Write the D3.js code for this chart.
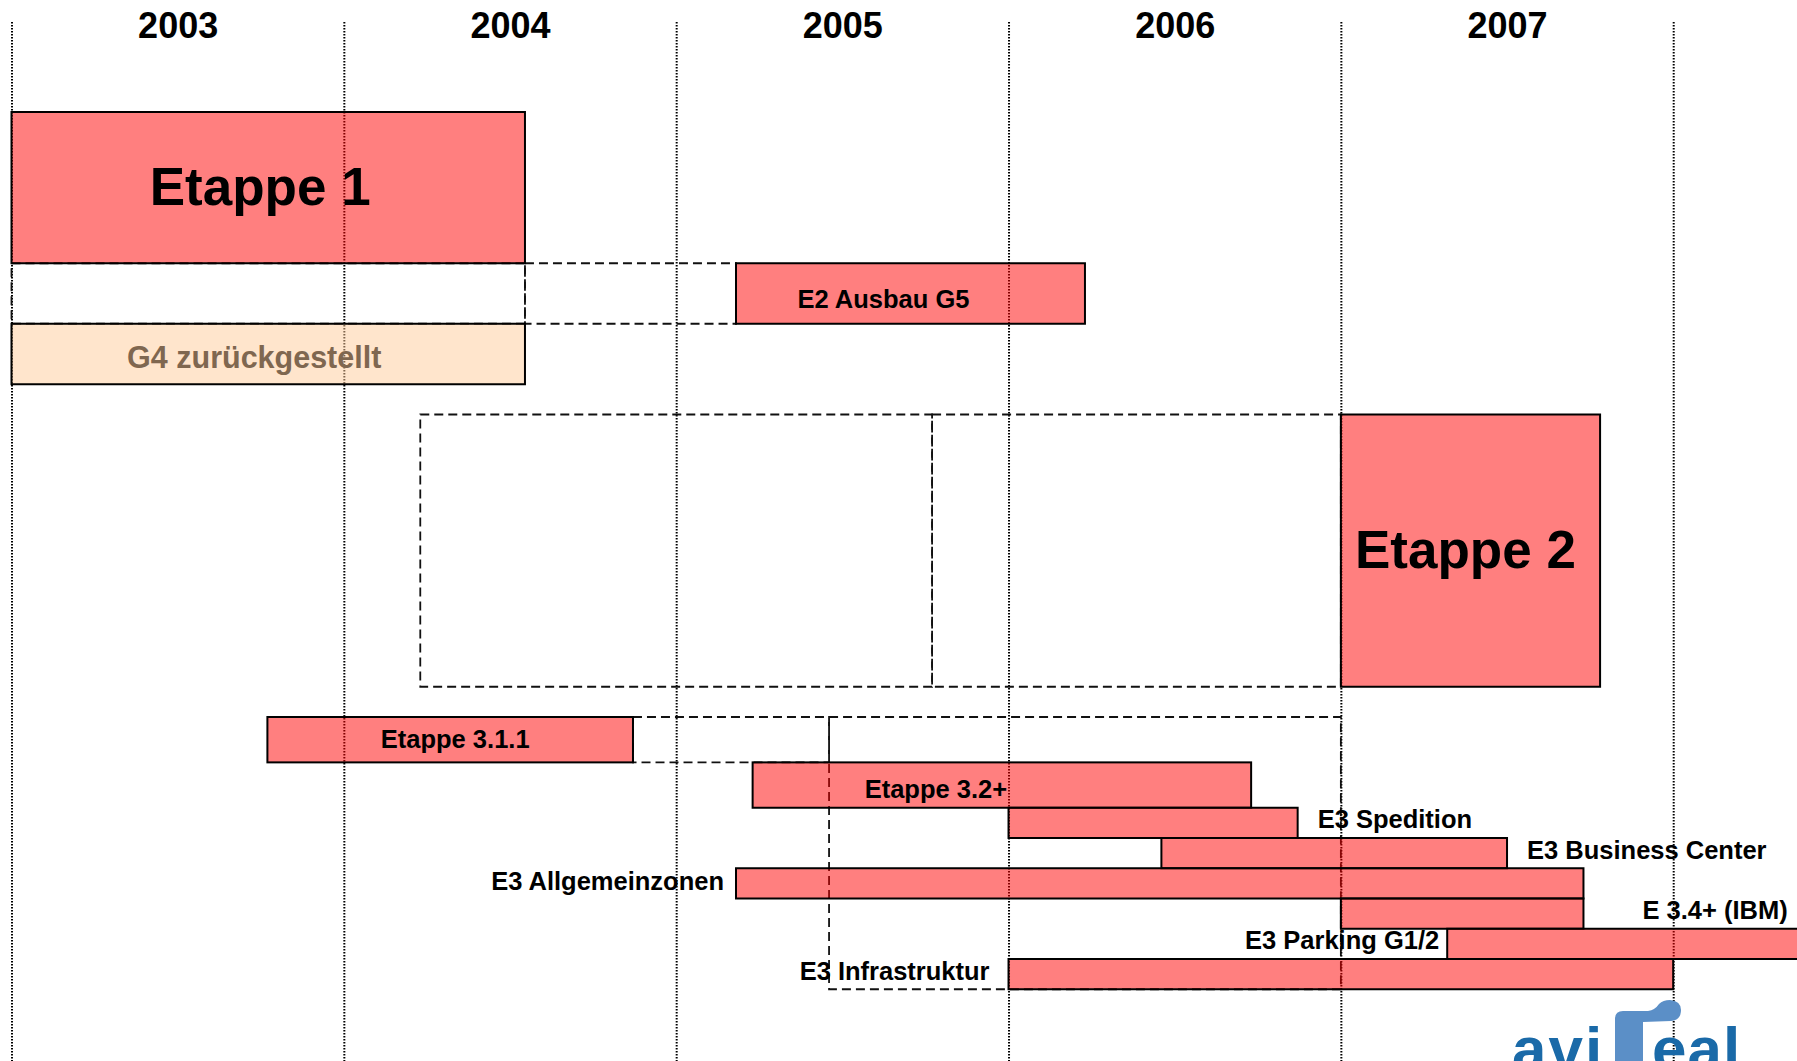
<!DOCTYPE html>
<html>
<head>
<meta charset="utf-8">
<script src="https://cdn.jsdelivr.net/npm/d3@7"></script>
<style>
  body { margin: 0; background: #fff; }
  #chart svg { display: block; }
</style>
</head>
<body>
<div id="chart"></div>
<script>
// Year columns of the schedule
const yearLabels = [2003, 2004, 2005, 2006, 2007];
const gridYears = [2003, 2004, 2005, 2006, 2007, 2008];

// Tasks (start / end in fractional years, row = lane index, rows = lane span)
const taskNames = ['Etappe 1', 'E2 Ausbau G5', 'G4 zurückgestellt', 'Etappe 2', 'Etappe 3.1.1', 'Etappe 3.2+',
  'E3 Spedition', 'E3 Business Center', 'E3 Allgemeinzonen', 'E 3.4+ (IBM)', 'E3 Parking G1/2', 'E3 Infrastruktur'];
const taskStart = [2003.0, 2005.18, 2003.0, 2007.0, 2003.77, 2005.23, 2006.0, 2006.46, 2005.18, 2007.0, 2007.32, 2006.0];
const taskEnd = [2004.545, 2006.23, 2004.545, 2007.78, 2004.87, 2006.73, 2006.87, 2007.5, 2007.73, 2007.73, 2008.5, 2008.0];
const taskRow = [0, 5, 7, 10, 20, 21.5, 23, 24, 25, 26, 27, 28];
const taskRows = [5, 2, 2, 9, 1.5, 1.5, 1, 1, 1, 1, 1, 1];

// Dashed frames (planned / shifted periods)
const frameStart = [2003.0, 2004.545, 2004.23, 2005.77, 2004.87, 2005.46];
const frameEnd = [2004.545, 2005.18, 2005.77, 2007.0, 2005.46, 2007.0];
const frameRow = [5, 5, 10, 10, 20, 20];
const frameRows = [2, 2, 9, 9, 1.5, 9];

// Label layout
const labelStyle = {
  'Etappe 1': { place: 'inside', size: 53, dx: -8, dy: '0.33em' },
  'E2 Ausbau G5': { place: 'inside', size: 25.5, dx: -27, dy: '0.55em' },
  'G4 zurückgestellt': { place: 'inside', size: 30.5, dx: -14, dy: '0.45em', color: '#7f6750' },
  'Etappe 2': { place: 'inside', size: 53, dx: -5, dy: '0.33em' },
  'Etappe 3.1.1': { place: 'inside', size: 25.5, dx: 5, dy: '0.33em' },
  'Etappe 3.2+': { place: 'inside', size: 25.5, dx: -66, dy: '0.5em' },
  'E3 Spedition': { place: 'right', size: 25.5, dx: 20, dy: '0.22em' },
  'E3 Business Center': { place: 'right', size: 25.5, dx: 20, dy: '0.22em' },
  'E3 Allgemeinzonen': { place: 'left', size: 25.5, dx: 12, dy: '0.26em' },
  'E 3.4+ (IBM)': { place: 'right', size: 25.5, dx: 59, dy: '0.22em' },
  'E3 Parking G1/2': { place: 'left', size: 25.5, dx: 8, dy: '0.22em' },
  'E3 Infrastruktur': { place: 'left', size: 25.5, dx: 19, dy: '0.22em' },
};

const width = 1797;
const height = 1061;
const font = '"Liberation Sans", Arial, Helvetica, sans-serif';

function Init_Schedule() {
  const svg = d3.select('#chart').append('svg').attr('width', width).attr('height', height);

  const x = d3.scaleLinear().domain([2003, 2008]).range([11.5, 1673.2]);
  const y = d3.scaleLinear().domain([0, 29]).range([112, 989.25]);

  // Dotted year grid
  const grid = svg
    .append('g')
    .attr('transform', 'translate(0,22)')
    .call(d3.axisBottom(x).tickValues(gridYears).tickSize(height - 22).tickFormat(''));
  grid.select('.domain').remove();
  grid.selectAll('line').attr('stroke', '#000').attr('stroke-width', 2).attr('stroke-dasharray', '1.5,1.5');

  // Year headers
  const head = svg
    .append('g')
    .attr('transform', 'translate(0,38)')
    .call(
      d3.axisTop(x)
        .tickValues(yearLabels.map((d) => d + 0.5))
        .tickSize(0)
        .tickPadding(0)
        .tickFormat((d) => Math.floor(d))
    );
  head.select('.domain').remove();
  head.selectAll('text').attr('font-family', font).attr('font-size', 36).attr('font-weight', 'bold').attr('fill', '#000');

  // Dashed frames
  const frames = frameStart.map((s, i) => ({ s, e: frameEnd[i], r: frameRow[i], n: frameRows[i] }));
  svg
    .append('g')
    .selectAll('rect')
    .data(frames)
    .enter()
    .append('rect')
    .attr('x', (d) => x(d.s))
    .attr('y', (d) => y(d.r))
    .attr('width', (d) => x(d.e) - x(d.s))
    .attr('height', (d) => y(d.r + d.n) - y(d.r))
    .attr('fill', 'none')
    .attr('stroke', '#111')
    .attr('stroke-width', 1.8)
    .attr('stroke-dasharray', '9,5');

  // Task bars
  const tasks = taskNames.map((name, i) => ({ name, s: taskStart[i], e: taskEnd[i], r: taskRow[i], n: taskRows[i] }));
  svg
    .append('g')
    .selectAll('rect')
    .data(tasks)
    .enter()
    .append('rect')
    .attr('x', (d) => x(d.s))
    .attr('y', (d) => y(d.r))
    .attr('width', (d) => x(d.e) - x(d.s))
    .attr('height', (d) => y(d.r + d.n) - y(d.r))
    .attr('fill', (d) => (d.name.startsWith('G4') ? 'rgba(255,203,153,0.5)' : 'rgba(255,0,0,0.5)'))
    .attr('stroke', '#000')
    .attr('stroke-width', 2);

  // Task labels
  svg
    .append('g')
    .selectAll('text')
    .data(tasks)
    .enter()
    .append('text')
    .attr('x', (d) => {
      const st = labelStyle[d.name];
      if (st.place === 'right') return x(d.e) + st.dx;
      if (st.place === 'left') return x(d.s) - st.dx;
      return (x(d.s) + x(d.e)) / 2 + st.dx;
    })
    .attr('y', (d) => (y(d.r) + y(d.r + d.n)) / 2)
    .attr('dy', (d) => labelStyle[d.name].dy)
    .attr('text-anchor', (d) => {
      const p = labelStyle[d.name].place;
      return p === 'right' ? 'start' : p === 'left' ? 'end' : 'middle';
    })
    .attr('font-family', font)
    .attr('font-weight', 'bold')
    .attr('font-size', (d) => labelStyle[d.name].size)
    .attr('fill', (d) => labelStyle[d.name].color || '#000')
    .text((d) => d.name);

  // avireal logo (cut by the bottom edge, as in the slide)
  const logo = svg.append('g');
  logo
    .append('path')
    .attr('d', 'M1615,1061 L1615,1019 Q1615,1011 1623,1011 L1648,1011 Q1655,1010 1659,1004 Q1663,1000 1670,1000 Q1681,1001 1681,1010 Q1681,1020 1671,1021 L1643,1022 L1643,1061 Z')
    .attr('fill', '#5b8fc7');
  logo
    .append('text')
    .attr('x', 1512)
    .attr('y', 1070)
    .attr('font-family', font)
    .attr('font-weight', 'bold')
    .attr('font-size', 62)
    .attr('letter-spacing', 2)
    .attr('fill', '#1a6aa8')
    .text('avi');
  logo
    .append('text')
    .attr('x', 1652)
    .attr('y', 1070)
    .attr('font-family', font)
    .attr('font-weight', 'bold')
    .attr('font-size', 62)
    .attr('letter-spacing', 1)
    .attr('fill', '#1a6aa8')
    .text('eal');
}

document.addEventListener('DOMContentLoaded', Init_Schedule);
</script>
</body>
</html>
